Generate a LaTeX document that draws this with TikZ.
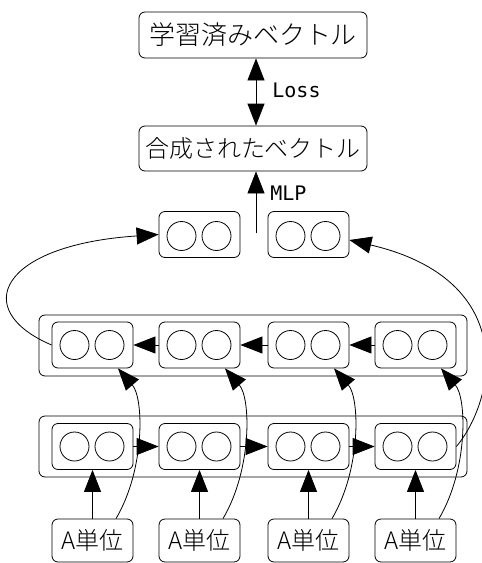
\documentclass[tikz,border=0pt]{standalone}
\usepackage{fontspec}
\newfontfamily\jp{Noto Sans CJK JP Light}
\newfontfamily\mono{DejaVu Sans Mono}
\usetikzlibrary{arrows.meta}
\begin{document}
\begin{tikzpicture}[x=1pt,y=-1pt,line width=0.8pt,
  box/.style={draw,rounded corners=6pt,inner sep=0pt},
  cell/.style={box,minimum width=81pt,minimum height=46pt},
  rowbox/.style={box,minimum width=428pt,minimum height=61pt},
  dot/.style={circle,draw,minimum size=29pt,inner sep=0pt},
  jptext/.style={font=\jp\fontsize{24pt}{24pt}\selectfont},
  lbl/.style={font=\mono\fontsize{20pt}{20pt}\selectfont,inner sep=0pt,anchor=west},
  arr/.style={-{Triangle[length=22pt,width=17pt]}},
  arrtwo/.style={{Triangle[length=22pt,width=17pt]}-{Triangle[length=22pt,width=17pt]}}]
\useasboundingbox (0,0) rectangle (482,563);

% top boxes
\node[box,font=\jp\fontsize{26pt}{26pt}\selectfont,minimum width=228pt,minimum height=46pt] (learned) at (253,35) {学習済みベクトル};
\node[box,jptext,minimum width=228pt,minimum height=45pt] (composed) at (253,148.5) {合成されたベクトル};
\draw[arrtwo] ([xshift=3pt]learned.south) -- ([xshift=3pt]composed.north);
\node[lbl] (losslbl) at (272,90) {Loss};

\coordinate (mlpstart) at (256,233);
\draw[arr] (mlpstart) -- (mlpstart |- composed.south);
\node[lbl] (mlplbl) at (270,193) {MLP};

% top pair of cells
\foreach \n/\x in {tl/199.5,tr/308.5} {
  \node[cell] (\n) at (\x,234.5) {};
  \node[dot] (\n a) at (\x-18,236) {};
  \node[dot] (\n b) at (\x+17,236) {};
}

% row boxes
\node[rowbox] (mrow) at (253,345.5) {};
\node[rowbox] (brow) at (253,446.5) {};

\foreach \i/\x in {1/92.5,2/199.5,3/308.5,4/415.5} {
  \node[cell] (m\i) at (\x,345) {};
  \node[dot] (m\i a) at (\x-18,345) {};
  \node[dot] (m\i b) at (\x+17,345) {};
  \node[cell] (b\i) at (\x,446.5) {};
  \node[dot] (b\i a) at (\x-18,446.5) {};
  \node[dot] (b\i b) at (\x+17,446.5) {};
  \node[box,jptext,minimum width=81pt,minimum height=43pt] (a\i) at (\x,540.5) {\raisebox{-2pt}{A単位}};
}

% row connectors
\draw[arr] (m4.west) -- (m3.east);
\draw[arr] (m3.west) -- (m2.east);
\draw[arr] (m2.west) -- (m1.east);
\draw[arr] (b1.east) -- (b2.west);
\draw[arr] (b2.east) -- (b3.west);
\draw[arr] (b3.east) -- (b4.west);

\foreach \i in {1,2,3,4} {
  \draw[arr] (a\i.north) -- (b\i.south);
  \draw[arr] ([xshift=23.5pt]a\i.north) .. controls +(29,-49) and +(26,30) .. ([xshift=25.5pt]m\i.south);
}

% long curves
\draw[arr] (m1.west) .. controls +(-82,-35) and +(-159,10.5) .. (tl.west);
\draw[arr] (b4.east) .. controls +(39,-46.5) and +(171,40) .. ([yshift=-5.5pt]tr.east);
\end{tikzpicture}
\end{document}
